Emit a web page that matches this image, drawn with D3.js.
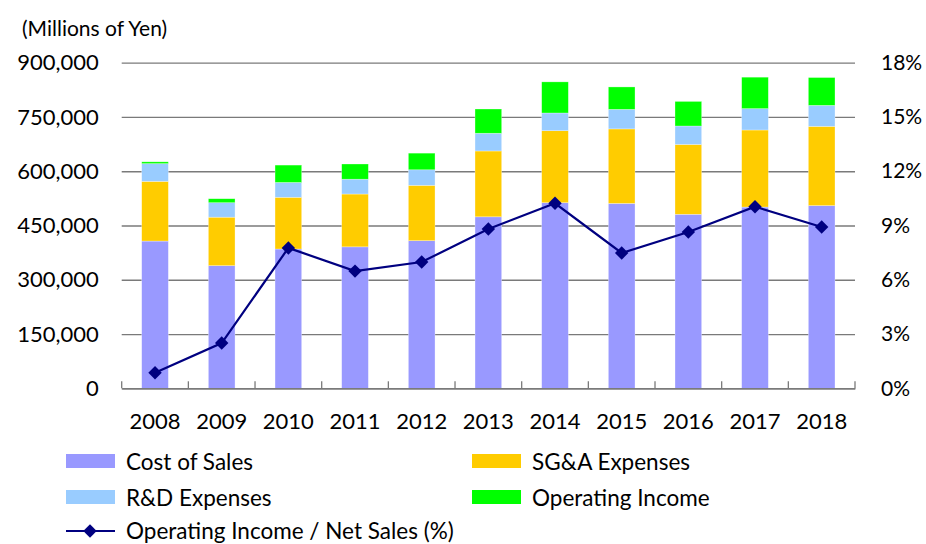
<!DOCTYPE html>
<html>
<head>
<meta charset="utf-8">
<script src="https://cdn.jsdelivr.net/npm/d3@7"></script>
<style>
  html, body { margin: 0; padding: 0; background: #fff; }
  svg { display: block; font-family: Lato, "Liberation Sans", sans-serif; }
</style>
</head>
<body>
<svg id="chart" width="926" height="544"></svg>
<script>
const years = ["2008","2009","2010","2011","2012","2013","2014","2015","2016","2017","2018"];
const costOfSales = [407000, 339000, 385000, 391000, 408000, 474000, 513000, 511000, 481000, 501000, 505000];
const sgaExpenses = [165000, 134000, 143000, 146000, 153000, 182000, 199000, 206000, 193000, 213000, 219000];
const rdExpenses  = [49000, 40000, 41000, 41000, 43000, 49000, 49000, 54000, 51000, 59000, 58000];
const operatingIncome = [5000, 11000, 48000, 42000, 46000, 67000, 86000, 62000, 68000, 87000, 77000];
const marginPct = [0.86, 2.5, 7.76, 6.48, 6.98, 8.81, 10.23, 7.48, 8.64, 10.04, 8.92];
const leftTicks = [0, 150000, 300000, 450000, 600000, 750000, 900000];
const rightTicks = [0, 3, 6, 9, 12, 15, 18];
const seriesNames = ["Cost of Sales", "SG&A Expenses", "R&D Expenses", "Operating Income"];
const seriesColors = ["#9999FF", "#FFCC00", "#99CCFF", "#00FF00"];
const lineName = "Operating Income / Net Sales (%)";
const lineColor = "#000080";
const unitLabel = "(Millions of Yen)";

const svg = d3.select("#chart");
const L = 121.7, R = 855, T = 62.7, B = 388.3;

const x = d3.scaleBand().domain(years).range([L, R]).paddingInner(0.6).paddingOuter(0.3);
const y = d3.scaleLinear().domain([0, 900000]).range([B, T]);
const y2 = d3.scaleLinear().domain([0, 18]).range([B, T]);

const gridColor = "#7a7a7a";

// Left axis with gridlines
const gLeft = svg.append("g").attr("transform", `translate(${L},0)`)
  .call(d3.axisLeft(y).tickValues(leftTicks).tickSize(-(R - L)).tickPadding(23)
    .tickFormat(d => d3.format(",")(d)));
gLeft.select(".domain").remove();
gLeft.selectAll(".tick line").attr("stroke", gridColor).attr("stroke-width", 1.3);
gLeft.selectAll(".tick text").attr("font-size", 22).attr("fill", "#000")
  .attr("font-family", "Lato, sans-serif");

// Right axis
const gRight = svg.append("g").attr("transform", `translate(${R},0)`)
  .call(d3.axisRight(y2).tickValues(rightTicks).tickSize(0).tickPadding(26)
    .tickFormat(d => d + "%"));
gRight.select(".domain").remove();
gRight.selectAll(".tick text").attr("font-size", 21).attr("fill", "#000")
  .attr("font-family", "Lato, sans-serif");

// Stacked bars
const stackData = years.map((yr, i) => ({
  year: yr,
  s0: costOfSales[i], s1: sgaExpenses[i], s2: rdExpenses[i], s3: operatingIncome[i]
}));
const stack = d3.stack().keys(["s0", "s1", "s2", "s3"]);
const layers = stack(stackData);
svg.append("g").selectAll("g").data(layers).join("g")
  .attr("fill", (d, i) => seriesColors[i])
  .selectAll("rect").data(d => d).join("rect")
  .attr("x", d => x(d.data.year))
  .attr("width", x.bandwidth())
  .attr("y", d => y(d[1]))
  .attr("height", d => y(d[0]) - y(d[1]))
  .attr("stroke", "#ffffff").attr("stroke-opacity", 0.5).attr("stroke-width", 0.6);

// X axis
const gX = svg.append("g").attr("transform", `translate(0,${B})`)
  .call(d3.axisBottom(x).tickSize(0).tickPadding(25));
gX.select(".domain").attr("stroke", gridColor).attr("stroke-width", 1.5);
gX.selectAll(".tick text").attr("font-size", 22).attr("fill", "#000")
  .attr("font-family", "Lato, sans-serif");
// category boundary ticks
const bounds = years.map(yr => x(yr) - x.step() * x.paddingOuter()).concat([R]);
gX.selectAll(".bt").data(bounds).join("line").attr("class", "bt")
  .attr("x1", d => d).attr("x2", d => d).attr("y1", 0).attr("y2", -7)
  .attr("stroke", gridColor).attr("stroke-width", 1.3);

// Line
const cx = yr => x(yr) + x.bandwidth() / 2;
const line = d3.line().x((d, i) => cx(years[i])).y(d => y2(d));
svg.append("path").datum(marginPct)
  .attr("d", line).attr("fill", "none").attr("stroke", lineColor).attr("stroke-width", 2.2);
const diamond = d3.symbol().type(d3.symbolSquare).size(90);
svg.append("g").selectAll("path").data(marginPct).join("path")
  .attr("d", diamond())
  .attr("transform", (d, i) => `translate(${cx(years[i])},${y2(d)}) rotate(45)`)
  .attr("fill", lineColor);

// Unit label
svg.append("text").attr("x", 22).attr("y", 27.5).attr("dominant-baseline", "central")
  .attr("font-size", 21).text(unitLabel);

// Legend
const legendPos = [[66, 461], [472, 461], [66, 497], [472, 497]];
const lg = svg.append("g");
seriesNames.forEach((name, i) => {
  const [lx, ly] = legendPos[i];
  lg.append("rect").attr("x", lx).attr("y", ly - 7).attr("width", 49).attr("height", 14)
    .attr("fill", seriesColors[i]);
  lg.append("text").attr("x", lx + 60).attr("y", ly).attr("dominant-baseline", "central")
    .attr("font-size", 22.5).text(name);
});
const lly = 531;
lg.append("line").attr("x1", 66).attr("x2", 115).attr("y1", lly).attr("y2", lly)
  .attr("stroke", lineColor).attr("stroke-width", 2.2);
lg.append("path").attr("d", diamond()).attr("transform", `translate(90,${lly}) rotate(45)`)
  .attr("fill", lineColor);
lg.append("text").attr("x", 126).attr("y", lly - 1).attr("dominant-baseline", "central")
  .attr("font-size", 22.5).text(lineName);
</script>
</body>
</html>
